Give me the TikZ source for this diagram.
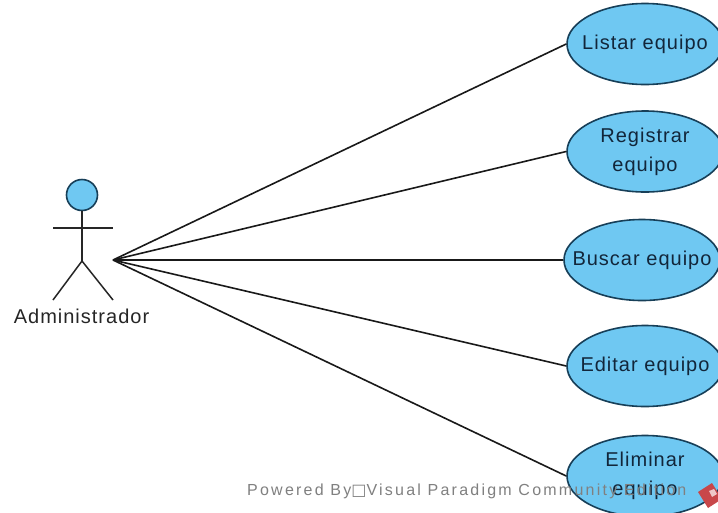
\documentclass[tikz,border=0pt]{standalone}
\usepackage{fontspec}
\usetikzlibrary{shapes.geometric}
\setmainfont[LetterSpace=5]{Liberation Sans}
\newfontfamily\wmfont[LetterSpace=14]{Liberation Sans}
\newfontfamily\symfont{DejaVu Sans}
\definecolor{ucfill}{HTML}{6FC8F2}
\definecolor{ucline}{HTML}{173F58}
\definecolor{uctext}{HTML}{12263A}
\definecolor{logored}{HTML}{C8474A}
\newcommand{\uct}[1]{\makebox[100pt]{#1}}
\tikzset{
  x=1pt,y=-1pt,
  usecase/.style={ellipse,draw=ucline,line width=1.6pt,fill=ucfill,minimum width=156pt,minimum height=81pt,inner xsep=0pt,inner ysep=-8pt,text width=100pt,align=center,text=uctext,font=\fontsize{20}{29}\selectfont},
  limb/.style={draw=black!85,line width=1.5pt},
  link/.style={draw=black!90,line width=1.6pt},
  watermark/.style={text=black!50,font=\fontsize{16}{18}\selectfont\wmfont,inner sep=0pt,anchor=west}
}
\begin{document}
\begin{tikzpicture}
\useasboundingbox (0,0) rectangle (718,512);
\clip (0,0) rectangle (718,512);
\fill[white] (0,0) rectangle (718,512);
\coordinate (hub) at (113,260);
\node[usecase] (listar) at (645,44) {\uct{Listar equipo}};
\node[usecase] (registrar) at (645,151.5) {Registrar\\equipo};
\node[usecase] (buscar) at (642,260) {\uct{Buscar equipo}};
\node[usecase] (editar) at (645,366) {\uct{Editar equipo}};
\node[usecase] (eliminar) at (645,476) {Eliminar\\equipo};
\draw[link] (hub) -- (listar.west);
\draw[link] (hub) -- (registrar.west);
\draw[link] (hub) -- (buscar.west);
\draw[link] (hub) -- (editar.west);
\draw[link] (hub) -- (eliminar.west);
\node[circle,draw=ucline,line width=1.6pt,fill=ucfill,minimum size=31pt,inner sep=0pt] (head) at (82,195) {};
\coordinate (hip) at (82,261);
\coordinate (armL) at (53,228);
\coordinate (armR) at (113,228);
\coordinate (footL) at (53,300);
\coordinate (footR) at (113,300);
\draw[limb] (head) -- (hip);
\draw[limb] (armL) -- (armR);
\draw[limb] (footL) -- (hip) -- (footR);
\node[font=\fontsize{20}{24}\selectfont,text=black!85,inner sep=0pt] (actor) at (81.5,316) {Administrador};
\node[watermark] (wm) at (247,491) {Powered By{\symfont\fontsize{16}{18}\selectfont □}Visual Paradigm Community Edition};
\fill[logored] (712,483) -- (698,492) -- (708,508) -- (722,499) -- cycle;
\fill[white!70!logored] (709,491) -- (714,489) -- (717,494) -- (712,497) -- cycle;
\end{tikzpicture}
\end{document}
